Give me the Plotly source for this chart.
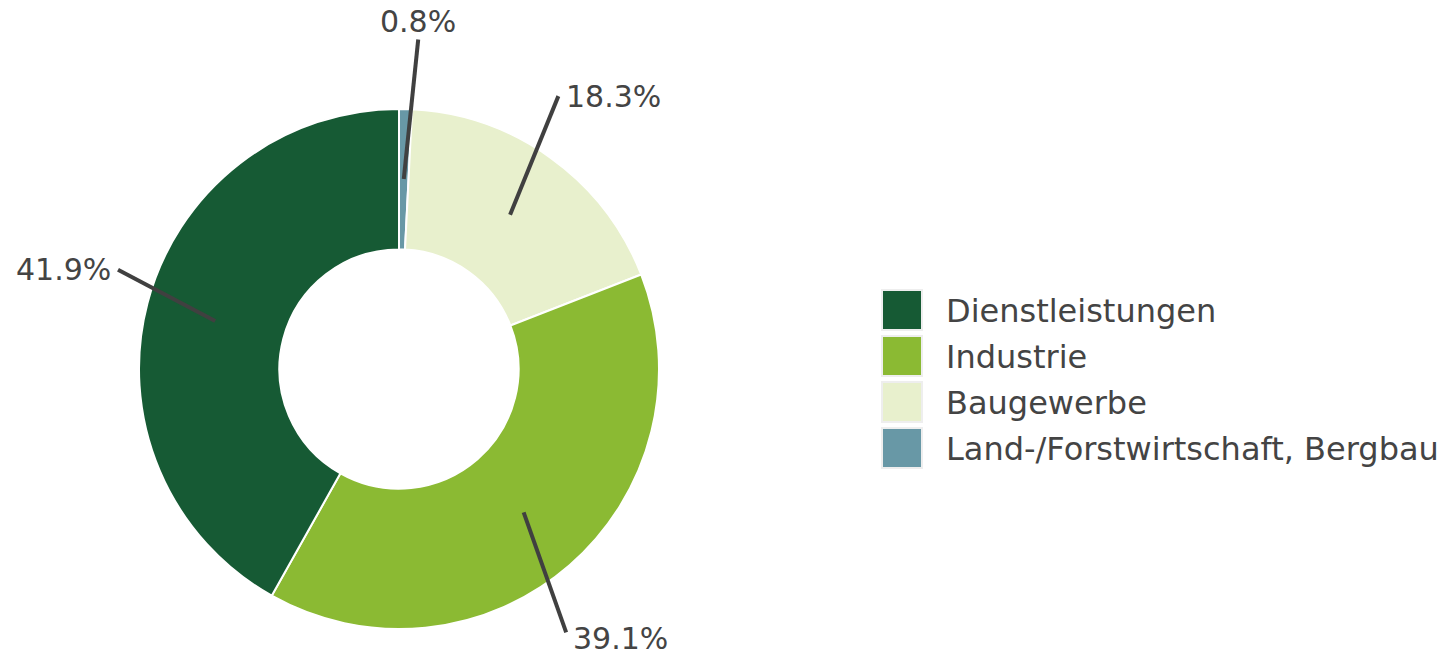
import math
import plotly.graph_objects as go

# ---- data ----
categories = ["Dienstleistungen", "Industrie", "Baugewerbe", "Land-/Forstwirtschaft, Bergbau"]
values = [41.9, 39.1, 18.3, 0.8]
label_texts = ["41.9%", "39.1%", "18.3%", "0.8%"]
colors = ["#165a34", "#8bba33", "#e8f0cd", "#6898a6"]

# ---- layout / style ----
W, H = 1450, 655
CX, CY, R_OUT = 399, 369, 260     # in page pixels
HOLE = 0.46
R_START = 190
# leader line end: angle offset (deg) relative to slice mid, and radius (px)
end_off = [-4.8, -8.6, 5.5, -1.9]
end_rad = [298, 312, 316, 330]
# label offset from line end (px), anchors
lab_dx = [-5, 5, 6, 0]
lab_dy = [0, 6, 0, -18]
lab_xanchor = ["right", "left", "left", "center"]
FONT = "DejaVu Sans"
TXT = "#444444"

def px(x, y):
    return x / W, 1 - y / H

# pie drawn clockwise from 12 o'clock in reversed order -> legend order runs counterclockwise
fig = go.Figure(go.Pie(
    labels=categories[::-1], values=values[::-1], sort=False, direction="clockwise",
    rotation=0, hole=HOLE, textinfo="none", hoverinfo="label+percent",
    marker=dict(colors=colors[::-1], line=dict(color="white", width=2)),
    domain=dict(x=[(CX - R_OUT) / W, (CX + R_OUT) / W],
                y=[1 - (CY + R_OUT) / H, 1 - (CY - R_OUT) / H]),
    showlegend=False,
))

shapes, annotations = [], []
total = sum(values)
cum = 0.0
for i, v in enumerate(values):
    mid_frac = (cum + v / 2) / total
    cum += v
    ang = math.radians(90 + 360 * mid_frac)  # counterclockwise from top
    sx, sy = CX + R_START * math.cos(ang), CY - R_START * math.sin(ang)
    ea = ang + math.radians(end_off[i])
    ex, ey = CX + end_rad[i] * math.cos(ea), CY - end_rad[i] * math.sin(ea)
    x0, y0 = px(sx, sy)
    x1, y1 = px(ex, ey)
    shapes.append(dict(type="line", xref="paper", yref="paper", x0=x0, y0=y0, x1=x1, y1=y1,
                       line=dict(color="#404040", width=4)))
    lx, ly = px(ex + lab_dx[i], ey + lab_dy[i])
    annotations.append(dict(text=label_texts[i], xref="paper", yref="paper", x=lx, y=ly,
                            xanchor=lab_xanchor[i], yanchor="middle", showarrow=False,
                            font=dict(family=FONT, size=30, color=TXT)))

# custom legend
LEG_X, LEG_Y0, LEG_STEP, SQ = 882, 290, 46, 40
for i, (c, name) in enumerate(zip(colors, categories)):
    top = LEG_Y0 + i * LEG_STEP
    xa, ya = px(LEG_X, top)
    xb, yb = px(LEG_X + SQ, top + SQ)
    shapes.append(dict(type="rect", xref="paper", yref="paper", x0=xa, y0=yb, x1=xb, y1=ya,
                       fillcolor=c, line=dict(color="#eeeeee", width=2)))
    tx, ty = px(LEG_X + SQ + 22, top + SQ / 2 + 1)
    annotations.append(dict(text=name, xref="paper", yref="paper", x=tx, y=ty,
                            xanchor="left", yanchor="middle", showarrow=False,
                            font=dict(family=FONT, size=32, color=TXT)))

fig.update_layout(width=W, height=H, margin=dict(l=0, r=0, t=0, b=0),
                  paper_bgcolor="white", plot_bgcolor="white",
                  shapes=shapes, annotations=annotations)
fig.write_html("out.html", config={"displayModeBar": False},
               post_script="document.body.style.margin='0';document.body.style.overflow='hidden';")
